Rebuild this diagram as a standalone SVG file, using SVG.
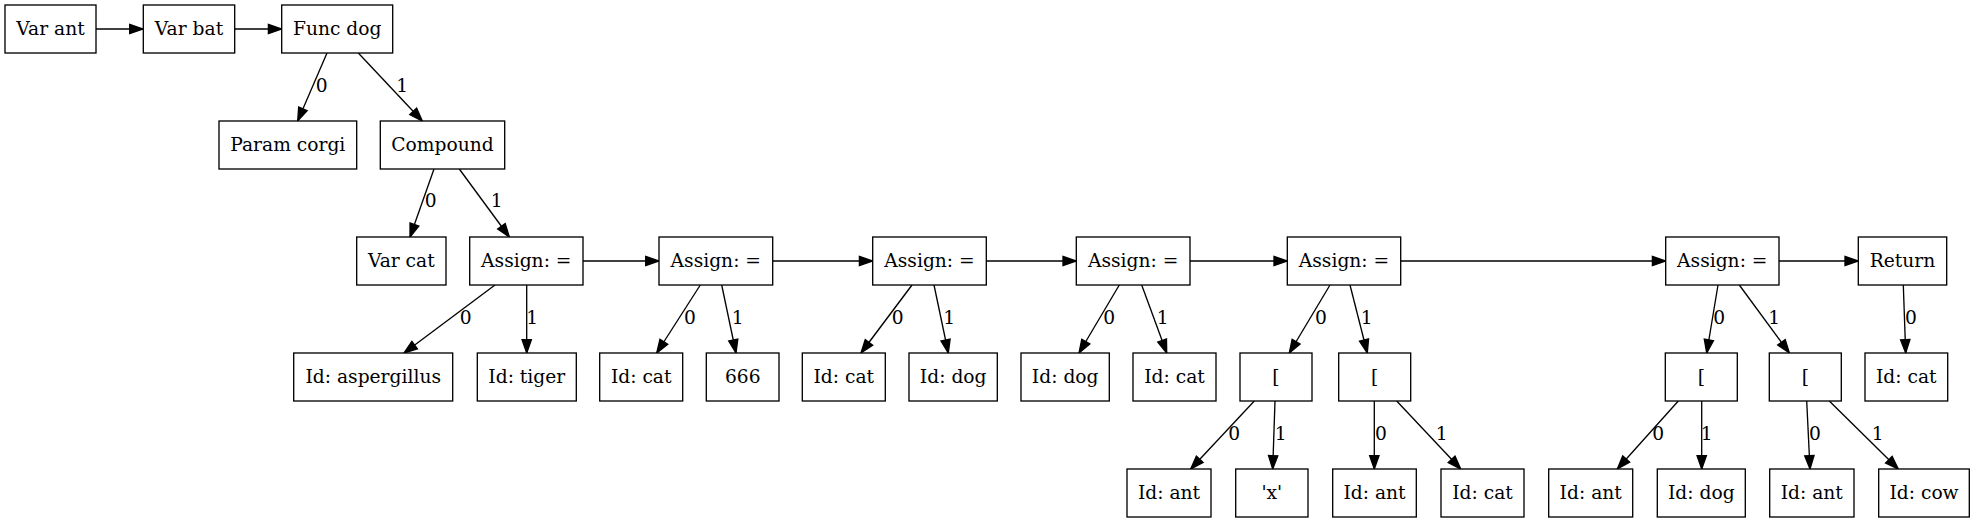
<svg xmlns="http://www.w3.org/2000/svg" width="1975" height="523" viewBox="0 0 1975 523">
<style>
rect{fill:#fff;stroke:#000;stroke-width:1.33}
text{font-family:"DejaVu Serif","Liberation Serif",serif;font-size:18.67px;fill:#000;text-anchor:middle}
.e line{stroke:#000;stroke-width:1.33;marker-end:url(#ah)}
</style>
<defs>
<marker id="ah" markerUnits="userSpaceOnUse" markerWidth="14" markerHeight="10" refX="13.3" refY="4.67" orient="auto" overflow="visible">
<path d="M0,0 L13.3,4.67 L0,9.33 z" fill="#000" stroke="#000" stroke-width="1.33"/>
</marker>
</defs>
<rect x="0" y="0" width="1975" height="523" style="stroke:none"/>
<g class="e" id="connectors">
<line x1="96" y1="29" x2="143" y2="29"/>
<line x1="234.7" y1="29" x2="281.7" y2="29"/>
<line x1="327" y1="53" x2="297.7" y2="121"/><text x="321.7" y="92">0</text>
<line x1="358.3" y1="53" x2="422.3" y2="121"/><text x="402.3" y="92">1</text>
<line x1="434" y1="169" x2="410" y2="237"/><text x="430.7" y="207">0</text>
<line x1="459.3" y1="169" x2="509.3" y2="237"/><text x="496.7" y="207">1</text>
<line x1="583" y1="261" x2="659" y2="261"/>
<line x1="495" y1="285" x2="404" y2="353"/><text x="465.7" y="324">0</text>
<line x1="526.7" y1="285" x2="526.7" y2="353"/><text x="532.3" y="324">1</text>
<line x1="772.7" y1="261" x2="872.7" y2="261"/>
<line x1="700.3" y1="285" x2="656.7" y2="353"/><text x="690" y="324">0</text>
<line x1="721.7" y1="285" x2="736" y2="353"/><text x="737.7" y="324">1</text>
<line x1="986.3" y1="261" x2="1076.3" y2="261"/>
<line x1="912" y1="285" x2="861" y2="353"/><text x="897.7" y="324">0</text>
<line x1="934" y1="285" x2="948.3" y2="353"/><text x="949.3" y="324">1</text>
<line x1="1190" y1="261" x2="1287.3" y2="261"/>
<line x1="1119.3" y1="285" x2="1079" y2="353"/><text x="1109.3" y="324">0</text>
<line x1="1141.7" y1="285" x2="1166.7" y2="353"/><text x="1162.7" y="324">1</text>
<line x1="1400.7" y1="261" x2="1665.7" y2="261"/>
<line x1="1330" y1="285" x2="1289.3" y2="353"/><text x="1321" y="324">0</text>
<line x1="1350" y1="285" x2="1367.3" y2="353"/><text x="1366.7" y="324">1</text>
<line x1="1779" y1="261" x2="1858.3" y2="261"/>
<line x1="1718" y1="285" x2="1706.7" y2="353"/><text x="1719.3" y="324">0</text>
<line x1="1739.3" y1="285" x2="1789.3" y2="353"/><text x="1774.3" y="324">1</text>
<line x1="1903.3" y1="285" x2="1905.7" y2="353"/><text x="1911" y="324">0</text>
<line x1="1254.3" y1="401" x2="1190.7" y2="469"/><text x="1234.3" y="440">0</text>
<line x1="1275" y1="401" x2="1272.7" y2="469"/><text x="1280.7" y="440">1</text>
<line x1="1374.3" y1="401" x2="1374.3" y2="469"/><text x="1381" y="440">0</text>
<line x1="1396.7" y1="401" x2="1460.7" y2="469"/><text x="1441.7" y="440">1</text>
<line x1="1678.3" y1="401" x2="1617.3" y2="469"/><text x="1658.3" y="440">0</text>
<line x1="1701.7" y1="401" x2="1701.7" y2="469"/><text x="1706.7" y="440">1</text>
<line x1="1806.7" y1="401" x2="1810" y2="469"/><text x="1815" y="440">0</text>
<line x1="1829.3" y1="401" x2="1898.3" y2="469"/><text x="1877.7" y="440">1</text>
</g>
<g id="n_varant"><rect x="5" y="5" width="91" height="48"/><text x="50.5" y="35">Var ant</text></g>
<g id="n_varbat"><rect x="143.3" y="5" width="91.4" height="48"/><text x="189" y="35">Var bat</text></g>
<g id="n_funcdog"><rect x="281.7" y="5" width="111" height="48"/><text x="337.2" y="35">Func dog</text></g>
<g id="n_param"><rect x="219" y="121" width="137.7" height="48"/><text x="287.8" y="151">Param corgi</text></g>
<g id="n_compound"><rect x="380.3" y="121" width="124.4" height="48"/><text x="442.5" y="151">Compound</text></g>
<g id="n_varcat"><rect x="356.7" y="237" width="89.3" height="48"/><text x="401.3" y="267">Var cat</text></g>
<g id="n_assign1"><rect x="469.7" y="237" width="113.3" height="48"/><text x="526.3" y="267">Assign: =</text></g>
<g id="n_assign2"><rect x="659" y="237" width="113.7" height="48"/><text x="715.8" y="267">Assign: =</text></g>
<g id="n_assign3"><rect x="872.7" y="237" width="113.6" height="48"/><text x="929.5" y="267">Assign: =</text></g>
<g id="n_assign4"><rect x="1076.3" y="237" width="113.7" height="48"/><text x="1133.2" y="267">Assign: =</text></g>
<g id="n_assign5"><rect x="1287.3" y="237" width="113.4" height="48"/><text x="1344" y="267">Assign: =</text></g>
<g id="n_assign6"><rect x="1665.7" y="237" width="113.3" height="48"/><text x="1722.3" y="267">Assign: =</text></g>
<g id="n_return"><rect x="1858.3" y="237" width="88.4" height="48"/><text x="1902.5" y="267">Return</text></g>
<g id="n_asp"><rect x="293.7" y="353" width="159" height="48"/><text x="373.2" y="383">Id: aspergillus</text></g>
<g id="n_tiger"><rect x="477.3" y="353" width="99" height="48"/><text x="526.8" y="383">Id: tiger</text></g>
<g id="n_cat1"><rect x="599.7" y="353" width="83" height="48"/><text x="641.2" y="383">Id: cat</text></g>
<g id="n_666"><rect x="706.3" y="353" width="72.7" height="48"/><text x="742.7" y="383">666</text></g>
<g id="n_cat2"><rect x="802.3" y="353" width="83" height="48"/><text x="843.8" y="383">Id: cat</text></g>
<g id="n_dog1"><rect x="909" y="353" width="88.3" height="48"/><text x="953.2" y="383">Id: dog</text></g>
<g id="n_dog2"><rect x="1021" y="353" width="88.3" height="48"/><text x="1065.2" y="383">Id: dog</text></g>
<g id="n_cat3"><rect x="1133" y="353" width="83" height="48"/><text x="1174.5" y="383">Id: cat</text></g>
<g id="n_br1"><rect x="1240" y="353" width="72" height="48"/><text x="1276" y="383">[</text></g>
<g id="n_br2"><rect x="1338.7" y="353" width="72" height="48"/><text x="1374.7" y="383">[</text></g>
<g id="n_br3"><rect x="1665.3" y="353" width="72" height="48"/><text x="1701.3" y="383">[</text></g>
<g id="n_br4"><rect x="1769.3" y="353" width="72" height="48"/><text x="1805.3" y="383">[</text></g>
<g id="n_cat4"><rect x="1865" y="353" width="82.7" height="48"/><text x="1906.3" y="383">Id: cat</text></g>
<g id="n_ant1"><rect x="1127" y="469" width="84" height="48"/><text x="1169" y="499">Id: ant</text></g>
<g id="n_x"><rect x="1235.7" y="469" width="72.3" height="48"/><text x="1271.8" y="499">'x'</text></g>
<g id="n_ant2"><rect x="1332.7" y="469" width="83.6" height="48"/><text x="1374.5" y="499">Id: ant</text></g>
<g id="n_cat5"><rect x="1441" y="469" width="83" height="48"/><text x="1482.5" y="499">Id: cat</text></g>
<g id="n_ant3"><rect x="1548.7" y="469" width="84" height="48"/><text x="1590.7" y="499">Id: ant</text></g>
<g id="n_dog3"><rect x="1657.3" y="469" width="88" height="48"/><text x="1701.3" y="499">Id: dog</text></g>
<g id="n_ant4"><rect x="1769.7" y="469" width="84.3" height="48"/><text x="1811.8" y="499">Id: ant</text></g>
<g id="n_cow"><rect x="1878.7" y="469" width="90.6" height="48"/><text x="1924" y="499">Id: cow</text></g>
</svg>
